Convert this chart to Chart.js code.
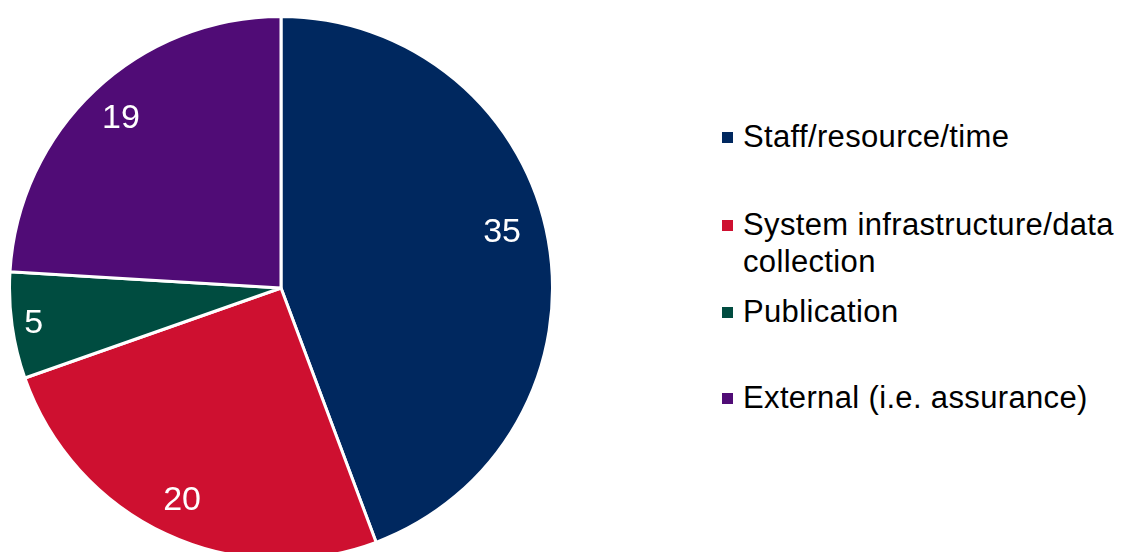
<!DOCTYPE html>
<html>
<head>
<meta charset="utf-8">
<script src="https://cdn.jsdelivr.net/npm/chart.js@4.4.0/dist/chart.umd.min.js"></script>
<style>
    html, body {
        margin: 0;
        padding: 0;
        width: 1125px;
        height: 552px;
        overflow: hidden;
        background: #ffffff;
        font-family: "Liberation Sans", Arial, sans-serif;
    }
    #pie-wrap {
        position: absolute;
        left: 8px;
        top: 15px;
        width: 546px;
        height: 546px;
    }
    #legend {
        position: absolute;
        left: 0;
        top: 0;
    }
    .legend-item {
        position: absolute;
        left: 722px;
        white-space: nowrap;
        font-size: 31px;
        letter-spacing: 0.35px;
        line-height: 37px;
        color: #000000;
    }
    .legend-item .swatch {
        position: absolute;
        left: 0;
        top: 14px;
        width: 11px;
        height: 11px;
    }
    .legend-item .text {
        margin-left: 21px;
    }
</style>
</head>
<body>
<div id="pie-wrap"><canvas id="pie-chart"></canvas></div>
<div id="legend"></div>

<script>
// Categories and values
const categories = [
    'Staff/resource/time',
    ['System infrastructure/data', 'collection'],
    'Publication',
    'External (i.e. assurance)'
];
const counts = [35, 20, 5, 19];
const sliceColors = ['#00285F', '#CE1030', '#004C40', '#500C76'];

// Legend row tops and label placement (fraction of radius, angle nudge in degrees)
const legendTops = [118, 206, 293, 379];
const labelRadius = [0.84, 0.86, 0.92, 0.86];
const labelNudge = [-4, 0, 0, 0];

// Draw the value of each slice inside it
const sliceLabels = {
    id: 'sliceLabels',
    afterDatasetsDraw(chart) {
        const ctx = chart.ctx;
        const meta = chart.getDatasetMeta(0);
        ctx.save();
        ctx.fillStyle = '#ffffff';
        ctx.font = '34px "Liberation Sans", Arial, sans-serif';
        ctx.textAlign = 'center';
        ctx.textBaseline = 'middle';
        meta.data.forEach((arc, i) => {
            const p = arc.getProps(['x', 'y', 'startAngle', 'endAngle', 'outerRadius'], true);
            const mid = (p.startAngle + p.endAngle) / 2 + labelNudge[i] * Math.PI / 180;
            const r = p.outerRadius * labelRadius[i];
            ctx.fillText(String(chart.data.datasets[0].data[i]), p.x + Math.cos(mid) * r, p.y + Math.sin(mid) * r + 1);
        });
        ctx.restore();
    }
};

function buildLegend() {
    const legend = document.getElementById('legend');
    legend.innerHTML = '';
    categories.forEach((cat, i) => {
        const item = document.createElement('div');
        item.className = 'legend-item';
        item.style.top = legendTops[i] + 'px';
        const lines = Array.isArray(cat) ? cat : [cat];
        item.innerHTML = `<span class="swatch" style="background:${sliceColors[i]}"></span>` +
            `<div class="text">${lines.join('<br>')}</div>`;
        legend.appendChild(item);
    });
}

function initializeChart() {
    const ctx = document.getElementById('pie-chart').getContext('2d');
    new Chart(ctx, {
        type: 'pie',
        data: {
            labels: categories,
            datasets: [{
                data: counts,
                backgroundColor: sliceColors,
                borderColor: '#ffffff',
                borderWidth: 3
            }]
        },
        options: {
            responsive: true,
            maintainAspectRatio: false,
            animation: false,
            layout: { padding: 0 },
            plugins: {
                legend: { display: false },
                tooltip: { enabled: false }
            }
        },
        plugins: [sliceLabels]
    });
}

buildLegend();
initializeChart();
</script>
</body>
</html>
